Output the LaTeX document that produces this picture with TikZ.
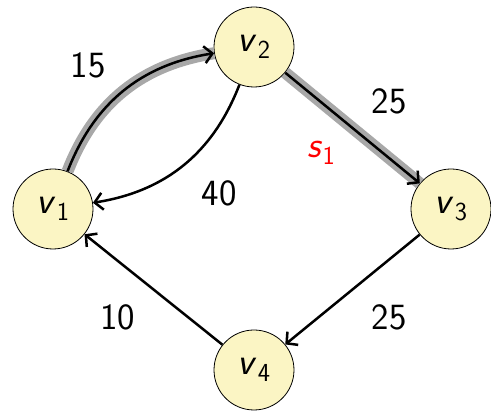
\documentclass[tikz,border=0pt]{standalone}
\usetikzlibrary{arrows.meta}
\definecolor{nodefill}{RGB}{251,245,196}
\definecolor{hlgray}{RGB}{168,168,168}
\newcommand\vlab[1]{\textsf{\textit{v}\kern0.5pt\raisebox{-0.45ex}{\fontsize{26}{28}\selectfont #1}}}
\begin{document}
\begin{tikzpicture}[x=1pt,y=1pt,
  vert/.style={circle,draw=black,line width=0.8pt,fill=nodefill,minimum size=80pt,inner sep=0pt,font=\fontsize{38}{40}\selectfont},
  edge/.style={-{Straight Barb[length=8pt,width=17pt]},line width=2.5pt,black},
  hl/.style={line width=12pt,hlgray},
  wlab/.style={font=\sffamily\fontsize{37}{40}\selectfont}]
\useasboundingbox (0,0) rectangle (491,412);
\node[vert] (v1) at (53,203) {\vlab{1}};
\node[vert] (v2) at (254,365) {\vlab{2}};
\node[vert] (v3) at (451,203) {\vlab{3}};
\node[vert] (v4) at (254,42) {\vlab{4}};
\draw[hl] (v1) to[bend left=30] (v2);
\draw[hl] (v2) -- (v3);
\draw[edge] (v1) to[bend left=30] (v2);
\draw[edge] (v2) to[bend left=30] (v1);
\draw[edge] (v2) -- (v3);
\draw[edge] (v3) -- (v4);
\draw[edge] (v4) -- (v1);
\node[wlab] (w15) at (88,347) {15};
\node[wlab] (w40) at (219,219) {40};
\node[wlab] (w25a) at (389,311) {25};
\node[wlab,text=red] (s1) at (321,259) {\textsf{\textit{s}\kern0.5pt\raisebox{-0.45ex}{\fontsize{26}{28}\selectfont 1}}};
\node[wlab] (w25b) at (389,95) {25};
\node[wlab] (w10) at (118,95) {10};
\end{tikzpicture}
\end{document}
